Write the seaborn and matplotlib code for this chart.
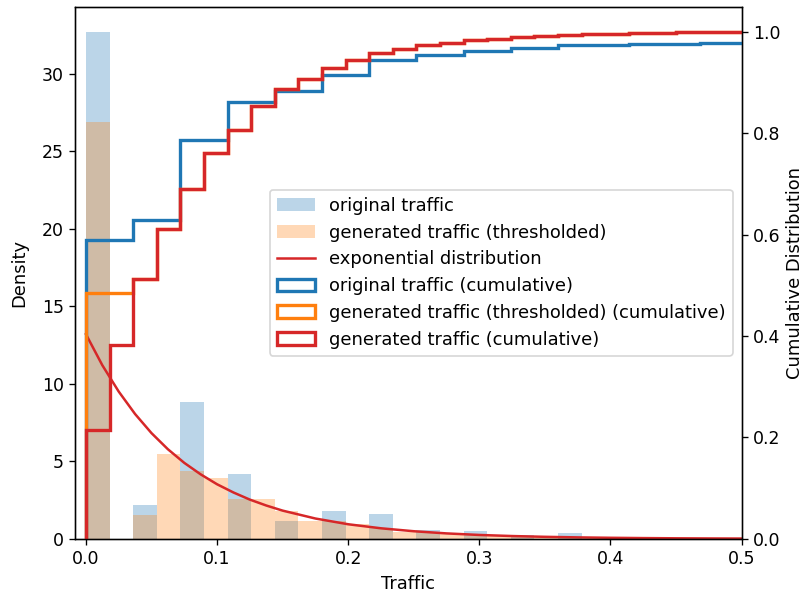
import numpy as np
import pandas as pd
import matplotlib
matplotlib.use("Agg")
import matplotlib.pyplot as plt
from matplotlib.patches import Patch
from matplotlib.lines import Line2D
import seaborn as sns

# Histogram bins (width in traffic units), densities per bin
bin_width = 0.018

original_density = [32.7, 0, 2.2, 0, 8.8, 0, 4.2, 0, 1.15, 0, 1.8, 0, 1.6, 0,
                    0.55, 0, 0.5, 0, 0.25, 0, 0.35, 0, 0, 0.12, 0, 0, 0.08, 0]
thresholded_density = [26.9, 0, 1.55, 5.5, 4.4, 3.9, 2.6, 2.6, 1.8, 1.15, 1.15,
                       0.95, 0.7, 0.45, 0.42, 0.3, 0.25, 0.2, 0.15, 0.13, 0.11,
                       0.09, 0.07, 0.06, 0.04, 0.03, 0.02, 0]
generated_density = [11.9, 9.3, 7.25, 5.5, 4.4, 3.9, 2.6, 2.6, 1.8, 1.15, 1.15,
                     0.95, 0.7, 0.45, 0.42, 0.3, 0.25, 0.2, 0.15, 0.13, 0.11,
                     0.09, 0.07, 0.06, 0.04, 0.03, 0.02, 0]

# Fitted exponential pdf sampled along the traffic axis
exp_x = [0.0, 0.0125, 0.025, 0.0375, 0.05, 0.0625, 0.075, 0.0875, 0.1, 0.1125,
         0.125, 0.1375, 0.15, 0.175, 0.2, 0.225, 0.25, 0.275, 0.3, 0.325, 0.35,
         0.375, 0.4, 0.425, 0.45, 0.475, 0.5]
exp_y = [13.2, 11.2, 9.5, 8.05, 6.82, 5.78, 4.9, 4.16, 3.52, 2.99,
         2.53, 2.15, 1.82, 1.31, 0.94, 0.68, 0.49, 0.35, 0.25, 0.18, 0.13,
         0.093, 0.067, 0.048, 0.034, 0.025, 0.018]

x_ticks = [0.0, 0.1, 0.2, 0.3, 0.4, 0.5]
left_ticks = [0, 5, 10, 15, 20, 25, 30]
right_ticks = [0.0, 0.2, 0.4, 0.6, 0.8, 1.0]

C_BLUE, C_ORANGE, C_RED = "#1f77b4", "#ff7f0e", "#d62728"
TICK_FS, LABEL_FS = 10.4, 10.7

n_bins = len(original_density)
edges = np.arange(n_bins + 1) * bin_width
centers = edges[:-1] + bin_width / 2

bins_df = pd.DataFrame({
    "traffic": centers,
    "original": original_density,
    "thresholded": thresholded_density,
    "generated": generated_density,
})
exp_df = pd.DataFrame({"traffic": exp_x, "pdf": exp_y})

fig = plt.figure(figsize=(807 / 120, 595 / 120), dpi=120)
ax = fig.add_axes([0.0933, 0.0944, 0.919 - 0.0933, 0.989 - 0.0944])

# density bars
sns.histplot(data=bins_df, x="traffic", weights="original", bins=list(edges),
             stat="count", color=C_BLUE, alpha=0.3, linewidth=0, ax=ax)
sns.histplot(data=bins_df, x="traffic", weights="thresholded", bins=list(edges),
             stat="count", color=C_ORANGE, alpha=0.3, linewidth=0, ax=ax)
sns.lineplot(data=exp_df, x="traffic", y="pdf", color=C_RED, linewidth=1.5, ax=ax)

ax.set_xlim(-0.0081, 0.5)
ax.set_ylim(0, max(original_density) * 1.05)
ax.set_xticks(x_ticks)
ax.set_yticks(left_ticks)
ax.tick_params(labelsize=TICK_FS)
ax.set_xlabel("Traffic", fontsize=LABEL_FS)
ax.set_ylabel("Density", fontsize=LABEL_FS, labelpad=8)

# cumulative distributions on the secondary axis
ax2 = ax.twinx()
for col_name, col in [("original", C_BLUE),
                      ("thresholded", C_ORANGE),
                      ("generated", C_RED)]:
    ax2.hist(bins_df["traffic"], bins=edges,
             weights=bins_df[col_name] * bin_width,
             cumulative=True, histtype="step", linewidth=2, color=col)
ax2.set_ylim(0, 1.05)
ax2.set_yticks(right_ticks)
ax2.tick_params(labelsize=TICK_FS)
ax2.set_ylabel("Cumulative Distribution", fontsize=LABEL_FS, labelpad=3)
ax2.set_xlim(-0.0081, 0.5)

handles = [
    Patch(facecolor=C_BLUE, alpha=0.3, linewidth=0),
    Patch(facecolor=C_ORANGE, alpha=0.3, linewidth=0),
    Line2D([], [], color=C_RED, linewidth=1.5),
    Patch(fill=False, edgecolor=C_BLUE, linewidth=2),
    Patch(fill=False, edgecolor=C_ORANGE, linewidth=2),
    Patch(fill=False, edgecolor=C_RED, linewidth=2),
]
labels = [
    "original traffic",
    "generated traffic (thresholded)",
    "exponential distribution",
    "original traffic (cumulative)",
    "generated traffic (thresholded) (cumulative)",
    "generated traffic (cumulative)",
]
ax2.legend(handles, labels, loc="center right", fontsize=LABEL_FS,
           labelspacing=0.49, handlelength=2.13)

fig.savefig("out.png", dpi=120)
